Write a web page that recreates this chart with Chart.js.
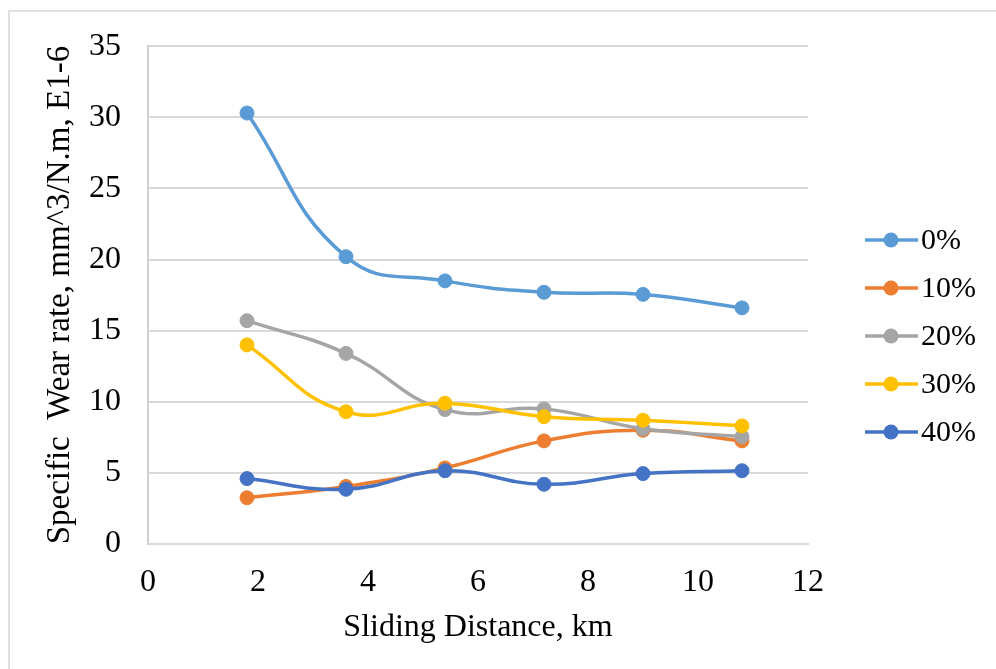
<!DOCTYPE html>
<html>
<head>
<meta charset="utf-8">
<script src="https://cdn.jsdelivr.net/npm/chart.js@4"></script>
<style>
  html, body { margin: 0; padding: 0; background: #fff; overflow: hidden; }
  #frame {
    position: absolute; left: 8px; top: 10px; width: 1000px; height: 700px;
    border: 2px solid #e0e0e0;
  }
  #chart { position: absolute; left: 0; top: 0; }
</style>
</head>
<body>
<div id="frame"></div>
<canvas id="chart" width="996" height="669"></canvas>
<script>
// sliding distance, km
const distances = [1.8, 3.6, 5.4, 7.2, 9.0, 10.8];

// specific wear rate, mm^3/N.m (E-6), per reinforcement content
const rate0 = [30.3, 20.2, 18.5, 17.7, 17.55, 16.6];
const rate10 = [3.25, 4.05, 5.35, 7.25, 8.0, 7.25];
const rate20 = [15.7, 13.4, 9.45, 9.5, 8.1, 7.55];
const rate30 = [14.0, 9.3, 9.9, 8.95, 8.7, 8.3];
const rate40 = [4.6, 3.85, 5.15, 4.2, 4.95, 5.15];

const seriesLabels = ["0%", "10%", "20%", "30%", "40%"];
const seriesColors = ["#5b9bd5", "#ed7d31", "#a5a5a5", "#ffc000", "#4472c4"];
const allRates = [rate0, rate10, rate20, rate30, rate40];

const FONT = "'Liberation Serif', 'Times New Roman', serif";

function makeDataset(i) {
  return {
    label: seriesLabels[i],
    data: distances.map((x, k) => ({ x: x, y: allRates[i][k] })),
    borderColor: seriesColors[i],
    backgroundColor: seriesColors[i],
    borderWidth: 3.5,
    pointRadius: 7,
    pointBorderWidth: 1,
    pointBackgroundColor: seriesColors[i],
    tension: 0.45,
    order: allRates.length - i,
  };
}

// legend drawn like Excel's: short line with a dot, then the label
const sideLegend = {
  id: "sideLegend",
  afterDraw(chart) {
    const ctx = chart.ctx;
    ctx.save();
    chart.data.datasets.forEach((ds, i) => {
      const y = 240 + i * 48;
      ctx.strokeStyle = ds.borderColor;
      ctx.lineWidth = 3.5;
      ctx.beginPath();
      ctx.moveTo(865, y);
      ctx.lineTo(918, y);
      ctx.stroke();
      ctx.fillStyle = ds.borderColor;
      ctx.beginPath();
      ctx.arc(891, y, 7.5, 0, Math.PI * 2);
      ctx.fill();
      ctx.fillStyle = "#000";
      ctx.font = "30px " + FONT;
      ctx.textBaseline = "middle";
      ctx.textAlign = "left";
      ctx.fillText(ds.label, 921, y + 1);
    });
    ctx.restore();
  },
};

new Chart(document.getElementById("chart"), {
  type: "line",
  data: { datasets: seriesLabels.map((_, i) => makeDataset(i)) },
  options: {
    responsive: false,
    animation: false,
    layout: { padding: { top: 42, right: 188, bottom: 0, left: 0 } },
    plugins: {
      legend: { display: false },
      tooltip: { enabled: false },
    },
    scales: {
      x: {
        type: "linear",
        min: 0,
        max: 12,
        ticks: { stepSize: 2, padding: 19, color: "#000", font: { family: FONT, size: 32 }, maxRotation: 0 },
        grid: { display: false, drawTicks: false },
        border: { display: true, color: "#d9d9d9", width: 2 },
        title: {
          display: true,
          text: "Sliding Distance, km",
          color: "#000",
          font: { family: FONT, size: 32 },
          padding: { bottom: 22 },
        },
        afterFit(scale) { scale.height = 125; },
      },
      y: {
        min: 0,
        max: 35,
        ticks: { stepSize: 5, padding: 27, color: "#000", font: { family: FONT, size: 32 } },
        grid: { color: "#d9d9d9", lineWidth: 2, drawTicks: false },
        border: { display: true, color: "#d0d0d0", width: 2 },
        title: {
          display: true,
          text: "Specific  Wear rate, mm^3/N.m, E1-6",
          color: "#000",
          font: { family: FONT, size: 33 },
          padding: { top: 41 },
        },
        afterFit(scale) { scale.width = 148; },
      },
    },
  },
  plugins: [sideLegend],
});
</script>
</body>
</html>
